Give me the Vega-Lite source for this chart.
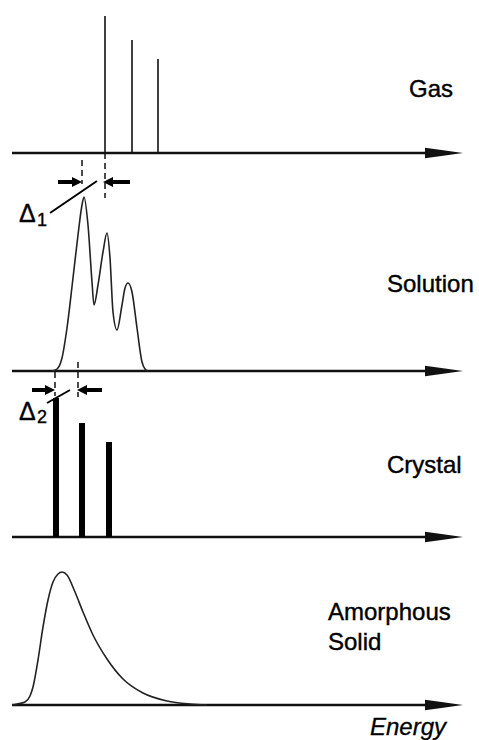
{
  "$schema": "https://vega.github.io/schema/vega-lite/v6.json",
  "width": 479,
  "height": 740,
  "padding": 0,
  "autosize": {"type": "fit", "contains": "padding"},
  "background": "white",
  "config": {"view": {"stroke": null}, "font": "Liberation Sans"},
  "datasets": {
    "baselines": [
      {"panel": "Gas", "e": 12, "e2": 428, "h": 153, "tip": 463},
      {"panel": "Solution", "e": 12, "e2": 428, "h": 371, "tip": 463},
      {"panel": "Crystal", "e": 12, "e2": 428, "h": 537, "tip": 463},
      {"panel": "Amorphous Solid", "e": 12, "e2": 428, "h": 705, "tip": 463}
    ],
    "gas": [
      {"e": 105, "h": 16, "h2": 153},
      {"e": 132, "h": 40, "h2": 153},
      {"e": 158, "h": 59, "h2": 153}
    ],
    "crystal": [
      {"e": 56, "h": 398, "h2": 537},
      {"e": 82, "h": 423, "h2": 537},
      {"e": 109, "h": 442, "h2": 537}
    ],
    "solution": [
      {"e": 52, "h": 371}, {"e": 57, "h": 369}, {"e": 62, "h": 358}, {"e": 67, "h": 328},
      {"e": 73, "h": 278}, {"e": 78, "h": 235}, {"e": 82, "h": 205}, {"e": 84, "h": 197},
      {"e": 88, "h": 225}, {"e": 92, "h": 282}, {"e": 94, "h": 305}, {"e": 98, "h": 285},
      {"e": 103, "h": 252}, {"e": 107, "h": 233}, {"e": 110, "h": 258}, {"e": 113, "h": 312},
      {"e": 117, "h": 330}, {"e": 122, "h": 305}, {"e": 125, "h": 288}, {"e": 128, "h": 283},
      {"e": 132, "h": 292}, {"e": 137, "h": 328}, {"e": 142, "h": 362}, {"e": 145, "h": 369},
      {"e": 148, "h": 371}
    ],
    "amorphous": [
      {"e": 12, "h": 705}, {"e": 17, "h": 704}, {"e": 25, "h": 702}, {"e": 30, "h": 696},
      {"e": 33, "h": 687}, {"e": 38, "h": 660}, {"e": 43, "h": 627}, {"e": 48, "h": 600},
      {"e": 53, "h": 582}, {"e": 58, "h": 574}, {"e": 62, "h": 572}, {"e": 67, "h": 575},
      {"e": 75, "h": 592}, {"e": 83, "h": 612}, {"e": 93, "h": 635}, {"e": 107, "h": 659},
      {"e": 123, "h": 679}, {"e": 143, "h": 693}, {"e": 167, "h": 701}, {"e": 190, "h": 704},
      {"e": 207, "h": 705}
    ],
    "dashes": [
      {"e": 82, "h": 160, "h2": 184},
      {"e": 105, "h": 153, "h2": 198},
      {"e": 55, "h": 372, "h2": 396},
      {"e": 78, "h": 362, "h2": 397}
    ],
    "shafts": [
      {"e": 58, "e2": 74, "h": 182},
      {"e": 130, "e2": 111, "h": 182},
      {"e": 32, "e2": 47, "h": 390},
      {"e": 102, "e2": 86, "h": 390}
    ],
    "headsRight": [{"e": 82, "h": 182}, {"e": 55, "h": 390}],
    "headsLeft": [{"e": 103, "h": 182}, {"e": 77, "h": 390}],
    "leaders": [
      {"e": 50, "h": 213, "e2": 97, "h2": 181},
      {"e": 47, "h": 403, "e2": 70, "h2": 390}
    ],
    "labels": [
      {"e": 409, "h": 97, "label": "Gas"},
      {"e": 387, "h": 292, "label": "Solution"},
      {"e": 387, "h": 473, "label": "Crystal"},
      {"e": 328, "h": 620, "label": "Amorphous"},
      {"e": 328, "h": 650, "label": "Solid"}
    ],
    "deltas": [
      {"e": 19, "h": 222, "label": "Δ"},
      {"e": 19, "h": 420, "label": "Δ"}
    ],
    "subs": [
      {"e": 37, "h": 226, "label": "1"},
      {"e": 37, "h": 423, "label": "2"}
    ],
    "axisTitle": [{"e": 370, "h": 735, "label": "Energy"}]
  },
  "encoding": {
    "x": {"field": "e", "type": "quantitative", "scale": {"domain": [0, 479], "nice": false, "zero": false}, "axis": null},
    "y": {"field": "h", "type": "quantitative", "scale": {"domain": [0, 740], "nice": false, "zero": false, "reverse": true}, "axis": null}
  },
  "layer": [
    {
      "data": {"name": "baselines"},
      "mark": {"type": "rule", "strokeWidth": 2.6, "color": "#111"},
      "encoding": {"x2": {"field": "e2"}}
    },
    {
      "data": {"name": "baselines"},
      "mark": {"type": "point", "shape": "M0,0L-2,-0.27L-2,0.27Z", "size": 1444, "filled": true, "color": "#111", "opacity": 1, "strokeWidth": 0},
      "encoding": {"x": {"field": "tip", "type": "quantitative"}}
    },
    {
      "data": {"name": "gas"},
      "mark": {"type": "rule", "strokeWidth": 1.6, "color": "#111"},
      "encoding": {"y2": {"field": "h2"}}
    },
    {
      "data": {"name": "crystal"},
      "mark": {"type": "rule", "strokeWidth": 6, "color": "#000", "strokeCap": "butt"},
      "encoding": {"y2": {"field": "h2"}}
    },
    {
      "data": {"name": "solution"},
      "mark": {"type": "line", "strokeWidth": 1.6, "color": "#222", "interpolate": "monotone"},
      "encoding": {"order": {"field": "e", "type": "quantitative"}}
    },
    {
      "data": {"name": "amorphous"},
      "mark": {"type": "line", "strokeWidth": 1.6, "color": "#222", "interpolate": "monotone"},
      "encoding": {"order": {"field": "e", "type": "quantitative"}}
    },
    {
      "data": {"name": "dashes"},
      "mark": {"type": "rule", "strokeWidth": 1.5, "color": "#111", "strokeDash": [6, 4]},
      "encoding": {"y2": {"field": "h2"}}
    },
    {
      "data": {"name": "shafts"},
      "mark": {"type": "rule", "strokeWidth": 4, "color": "#000", "strokeCap": "butt"},
      "encoding": {"x2": {"field": "e2"}}
    },
    {
      "data": {"name": "headsRight"},
      "mark": {"type": "point", "shape": "M0,0L-2,-1L-2,1Z", "size": 100, "filled": true, "color": "#000", "opacity": 1, "strokeWidth": 0}
    },
    {
      "data": {"name": "headsLeft"},
      "mark": {"type": "point", "shape": "M0,0L2,-1L2,1Z", "size": 100, "filled": true, "color": "#000", "opacity": 1, "strokeWidth": 0}
    },
    {
      "data": {"name": "leaders"},
      "mark": {"type": "rule", "strokeWidth": 2, "color": "#000"},
      "encoding": {"x2": {"field": "e2"}, "y2": {"field": "h2"}}
    },
    {
      "data": {"name": "labels"},
      "mark": {"type": "text", "align": "left", "baseline": "alphabetic", "fontSize": 24, "font": "Liberation Sans", "color": "#000", "stroke": "#000", "strokeWidth": 0.4},
      "encoding": {"text": {"field": "label"}}
    },
    {
      "data": {"name": "deltas"},
      "mark": {"type": "text", "align": "left", "baseline": "alphabetic", "fontSize": 25, "font": "Liberation Sans", "color": "#000", "stroke": "#000", "strokeWidth": 0.4},
      "encoding": {"text": {"field": "label"}}
    },
    {
      "data": {"name": "subs"},
      "mark": {"type": "text", "align": "left", "baseline": "alphabetic", "fontSize": 18, "font": "Liberation Sans", "color": "#000", "stroke": "#000", "strokeWidth": 0.4},
      "encoding": {"text": {"field": "label"}}
    },
    {
      "data": {"name": "axisTitle"},
      "mark": {"type": "text", "align": "left", "baseline": "alphabetic", "fontSize": 24, "fontStyle": "italic", "font": "Liberation Sans", "color": "#000", "stroke": "#000", "strokeWidth": 0.3},
      "encoding": {"text": {"field": "label"}}
    }
  ]
}
